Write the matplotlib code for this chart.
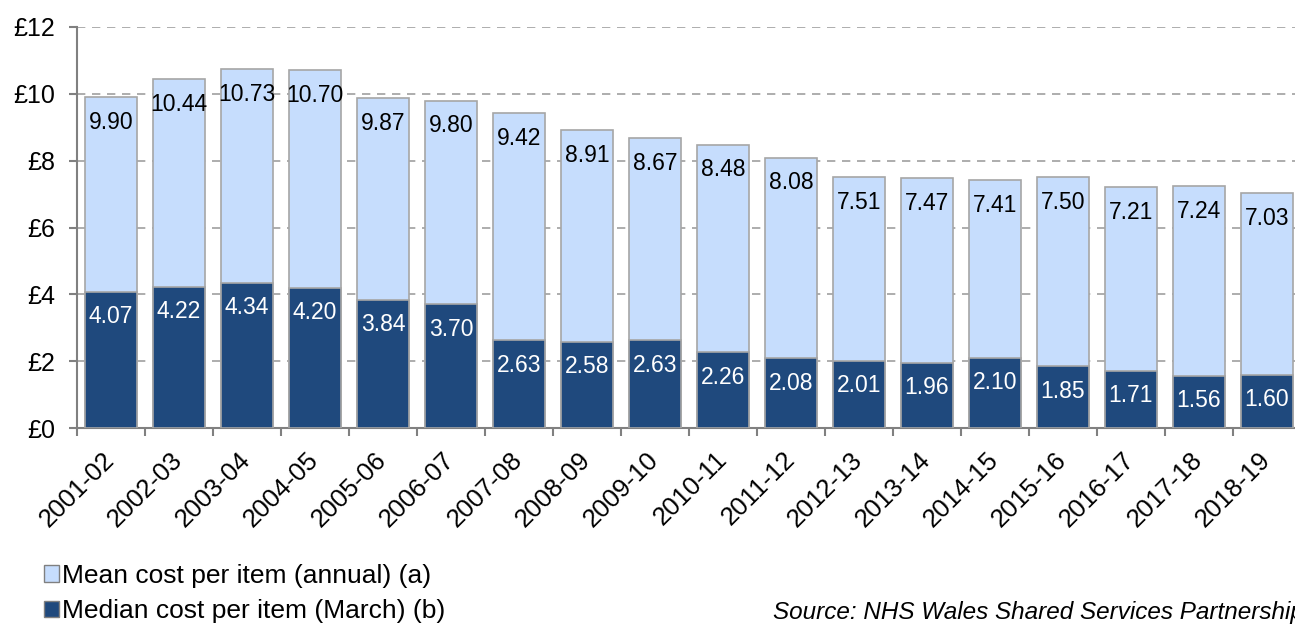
import numpy as np
import matplotlib.pyplot as plt
from matplotlib.patches import Patch

plt.rcParams['font.family'] = ['Liberation Sans', 'DejaVu Sans']

years = ["2001-02", "2002-03", "2003-04", "2004-05", "2005-06", "2006-07",
         "2007-08", "2008-09", "2009-10", "2010-11", "2011-12", "2012-13",
         "2013-14", "2014-15", "2015-16", "2016-17", "2017-18", "2018-19"]
mean_cost = [9.90, 10.44, 10.73, 10.70, 9.87, 9.80, 9.42, 8.91, 8.67, 8.48,
             8.08, 7.51, 7.47, 7.41, 7.50, 7.21, 7.24, 7.03]
median_cost = [4.07, 4.22, 4.34, 4.20, 3.84, 3.70, 2.63, 2.58, 2.63, 2.26,
               2.08, 2.01, 1.96, 2.10, 1.85, 1.71, 1.56, 1.60]

light = "#C6DDFD"
dark = "#1F497D"
edge = "#A6A6A6"

fig = plt.figure(figsize=(12.95, 6.3), dpi=100)
# axes runs slightly past the right edge, as in the original export
ax = fig.add_axes([77 / 1295, 1 - 428 / 630, 1224 / 1295, 401 / 630])

x = np.arange(len(years))
w = 0.76
ax.bar(x, mean_cost, width=w, color=light, edgecolor=edge, linewidth=1.2, zorder=2)
ax.bar(x, median_cost, width=w, color=dark, edgecolor=edge, linewidth=1.2, zorder=3)

for xi, m, md in zip(x, mean_cost, median_cost):
    ax.annotate(f"{m:.2f}", (xi, m), xytext=(0, -18), textcoords="offset points",
                ha="center", va="center", fontsize=16.5, color="black", zorder=4)
    ax.annotate(f"{md:.2f}", (xi, md), xytext=(0, -18), textcoords="offset points",
                ha="center", va="center", fontsize=16.5, color="white", zorder=4)

ax.set_xlim(-0.5, len(years) - 0.5)
ax.set_ylim(0, 12)
ax.set_yticks(np.arange(0, 13, 2))
ax.set_yticklabels([f"£{v}" for v in range(0, 13, 2)], fontsize=18)
ax.set_xticks(np.arange(-0.5, len(years), 1), minor=True)
ax.set_xticks(x)
ax.set_xticklabels(years, rotation=45, ha="right", va="center",
                   rotation_mode="anchor", fontsize=18.5)
ax.tick_params(axis="x", which="major", length=0, pad=20)
ax.tick_params(axis="x", which="minor", length=6, color="#808080", width=1.5)
ax.tick_params(axis="y", length=6, color="#808080", width=1.5, pad=10)

ax.grid(axis="y", linestyle=(0, (5, 4)), color="#A0A0A0", linewidth=1.2, zorder=0)
for side in ["top", "right"]:
    ax.spines[side].set_visible(False)
for side in ["left", "bottom"]:
    ax.spines[side].set_color("#808080")
    ax.spines[side].set_linewidth(1.5)

handles = [Patch(facecolor=light, edgecolor="#808080", label="Mean cost per item (annual) (a)"),
           Patch(facecolor=dark, edgecolor="#808080", label="Median cost per item (March) (b)")]
fig.legend(handles=handles, loc="lower left", bbox_to_anchor=(33 / 1295, -0.006),
           frameon=False, fontsize=19, handlelength=0.6, handleheight=0.6,
           handletextpad=0.1, labelspacing=0.42, borderaxespad=0)

fig.text(773 / 1295, 1 - 612 / 630, "Source: NHS Wales Shared Services Partnership",
         fontsize=17.5, style="italic", ha="left", va="center")

fig.savefig("out.png", dpi=100)
